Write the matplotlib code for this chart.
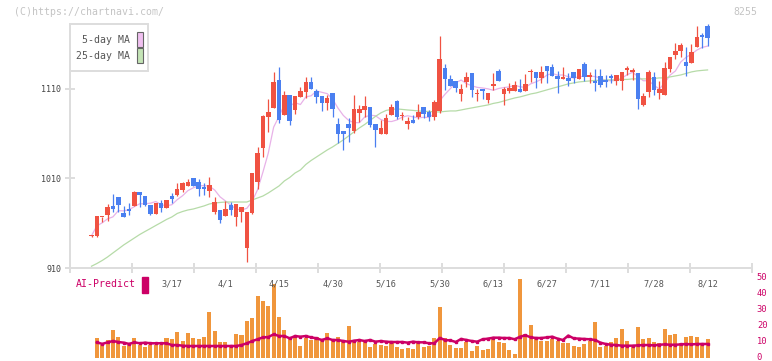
import numpy as np
import pandas as pd
import matplotlib
matplotlib.use('Agg')
import matplotlib.pyplot as plt
from matplotlib.patches import Rectangle
from matplotlib.transforms import blended_transform_factory, ScaledTranslation

# ---- daily candles (price) ----
opens = [946, 945.8, 967, 969.2, 979.3, 989.3, 971.8, 975.9, 979.3, 994.9,
         990.4, 980.4, 970.3, 983, 977.4, 990.4, 991.9, 997.2, 1001.6, 1010.2,
         1006.1, 1000.5, 996.4, 972.6, 974.8, 968.4, 980.4, 966.4, 972.6, 932.3,
         971.5, 1006.4, 1044.4, 1079, 1089.1, 1120, 1081, 1103.3, 1086.5, 1101.4,
         1107, 1117.8, 1107.8, 1102.2, 1094.7, 1105.2, 1070.9, 1063.1, 1070.9, 1063.1,
         1083.5, 1086.5, 1090.2, 1070.9, 1059.7, 1059.7, 1081, 1096.6, 1079.5, 1070.6,
         1075.4, 1079, 1089.9, 1084.3, 1078.7, 1085.4, 1133.8, 1121.2, 1118.9, 1104.4,
         1117.8, 1127.9, 1104.2, 1110, 1097.7, 1113.3, 1130.1, 1104.4, 1108, 1108.1,
         1109.4, 1108.1, 1128.4, 1129, 1122.3, 1135.7, 1134.6, 1124.5, 1120.8, 1122,
         1129, 1121.5, 1137.9, 1123.8, 1118.9, 1124.5, 1120.1, 1124.5, 1119.3, 1119.3,
         1131.6, 1129.3, 1128.2, 1092.1, 1106.6, 1123.1, 1105.9, 1103.3, 1132.3, 1148,
         1152.5, 1140.2, 1139, 1156.4, 1170.3, 1180.4]
closes = [946, 968.1, 967.3, 978.2, 975.9, 980.4, 967.3, 973.7, 995.3, 991.9,
          980.7, 970.3, 983, 977.4, 986, 986.8, 998.3, 1005, 1006.1, 1001.6,
          998.6, 998.6, 1002.7, 983.7, 963.6, 975.9, 974.8, 981.5, 978.2, 972.9,
          1015.8, 1038.8, 1079.8, 1084.3, 1117.8, 1075.4, 1103.3, 1074.2, 1102.2, 1107.8,
          1117.8, 1109.7, 1101.1, 1094.7, 1100.3, 1087.7, 1059.7, 1059.7, 1066.8, 1087.7,
          1087.7, 1091, 1069.8, 1064.2, 1066.4, 1077.3, 1090.2, 1078.4, 1080, 1074.2,
          1071.4, 1084.3, 1081.7, 1079, 1095.1, 1143.5, 1121.2, 1113.3, 1111.5, 1110,
          1123.7, 1108.9, 1104.6, 1108.1, 1105.2, 1115.6, 1118.9, 1110, 1111.5, 1114.5,
          1107, 1115.6, 1130.1, 1122.3, 1129, 1130.1, 1124.9, 1120.8, 1123.1, 1119.3,
          1122.6, 1132.3, 1123.7, 1124.2, 1116.1, 1114.5, 1118.2, 1122.6, 1125.6, 1129.3,
          1133.8, 1131.6, 1098.8, 1102.2, 1129.2, 1108.9, 1110, 1133.5, 1145.4, 1152.5,
          1159.2, 1136, 1151.3, 1167.9, 1167.5, 1166.4]
highs = [947, 968.1, 967.5, 981.5, 993, 989.3, 979.3, 983, 996, 995,
         990.4, 980.4, 983, 986, 986, 993.5, 1004.6, 1006, 1009.1, 1010.2,
         1009.1, 1005.3, 1012, 989.7, 974.8, 984.9, 984.1, 981.5, 978.2, 972.9,
         1015.8, 1044.9, 1081, 1098.8, 1129, 1134.9, 1107.8, 1103.3, 1102.2, 1112.6,
         1123.7, 1123.7, 1109.7, 1102.2, 1103.3, 1105.2, 1077.3, 1063.1, 1077.3, 1103.3,
         1092.1, 1102.2, 1090.2, 1070.9, 1075.4, 1081.7, 1093.2, 1098.1, 1084, 1079,
         1081, 1093.2, 1089.9, 1086.5, 1097.7, 1169.2, 1137.9, 1125.6, 1118.9, 1115.2,
         1129, 1127.9, 1109.7, 1110, 1106, 1127.9, 1132, 1112.6, 1116.4, 1118.9,
         1121.2, 1126.8, 1132.3, 1129, 1135.4, 1135.7, 1137.6, 1130.1, 1134.6, 1127.5,
         1129, 1132.3, 1140.2, 1129.3, 1132.3, 1132.3, 1125.6, 1126.8, 1125.6, 1129.3,
         1136, 1133.1, 1128.2, 1106, 1131.2, 1129, 1118.9, 1140.5, 1145.4, 1161.1,
         1161.7, 1157.3, 1160.3, 1180.4, 1172.2, 1182.6]
lows = [945, 945, 961.7, 962.5, 972.9, 972.9, 967.3, 969.2, 979.3, 978.5,
        979.3, 969.2, 970.3, 972.9, 977.4, 982.3, 990.4, 995.3, 1001.6, 1001.6,
        990.8, 991.2, 988.8, 970.3, 960.6, 968.4, 969.2, 956.9, 961.7, 916.7,
        970.3, 997.9, 1034.4, 1062.3, 1089.1, 1072, 1081, 1069.8, 1082, 1100.7,
        1099.6, 1109.7, 1094, 1085.4, 1086.5, 1079, 1049.3, 1041.8, 1051.1, 1060.5,
        1073.5, 1078.7, 1067.9, 1045.5, 1059.7, 1059.7, 1081, 1076.5, 1074.8, 1065.3,
        1071.4, 1076.1, 1077.3, 1074.6, 1075.4, 1082.8, 1108.9, 1113.3, 1106.6, 1096.6,
        1112.6, 1101.4, 1096.6, 1098.6, 1094, 1108.9, 1118.9, 1091.6, 1105.2, 1108.1,
        1107, 1108.1, 1117.8, 1111.1, 1116.4, 1116.4, 1124.9, 1105.9, 1120.8, 1113.3,
        1116.4, 1121.5, 1119.3, 1116.7, 1108.1, 1111.9, 1112.6, 1116.4, 1114.5, 1108.9,
        1125.6, 1120.1, 1087.7, 1091.3, 1101.4, 1103.3, 1098.8, 1103.3, 1129.3, 1143.5,
        1146.1, 1124.5, 1139, 1156.4, 1155.8, 1158]

# 25-day moving average as drawn (needs history before the window)
ma25 = [912, 915, 918.4, 922.3, 926.8, 931.2, 935.7, 939.6, 943.5, 947.4,
        950.8, 954.1, 957.5, 960.8, 964.2, 967, 970.9, 973.1, 974.8, 975.9,
        977.6, 979.3, 981.5, 982.6, 983.2, 983.7, 983.7, 983.7, 983.7, 983.7,
        986, 988.2, 990.4, 993.8, 997.7, 1001.6, 1007.2, 1011.1, 1016.1, 1019.5,
        1025.6, 1030.1, 1034, 1037.9, 1041.8, 1045.2, 1049.1, 1053, 1057.5, 1062,
        1066.4, 1070.3, 1074.8, 1079.3, 1083.2, 1086, 1087.1, 1087.7, 1087.1, 1086.5,
        1086, 1085.4, 1084.9, 1084.9, 1084.3, 1084.3, 1084.9, 1085.4, 1085.4, 1086.5,
        1087.7, 1088.8, 1089.9, 1091, 1092.1, 1093.8, 1094.9, 1096.6, 1098.3, 1099.9,
        1101.1, 1102.7, 1104.4, 1105.5, 1107.2, 1108.9, 1110.6, 1112.2, 1113.9, 1115.6,
        1116.7, 1117.8, 1118.4, 1118.9, 1119.5, 1119.5, 1120.1, 1120.1, 1120.1, 1120.6,
        1120.6, 1121.2, 1121.2, 1121.2, 1121.2, 1121.7, 1122.3, 1122.3, 1123.4, 1124.5,
        1125.6, 1127.3, 1129, 1130.1, 1130.7, 1131.2]

# ---- lower panel ----
volume = [None, 12.7, 8.1, 11.3, 17.5, 13.3, 7.5, 8.1, 12.7, 8.1,
          7.1, 8.1, 8.1, 8.1, 12.7, 11.9, 16.5, 10.8, 15.8, 12.7,
          11.9, 13.3, 29, 17.1, 10.2, 10.2, 8.1, 15, 14.4, 23.1,
          25.2, 39, 35.8, 32.7, 46.3, 25.8, 17.5, 11.9, 12.9, 7.5,
          12.7, 11.3, 13.3, 11.3, 15.8, 11.3, 13.3, 11.3, 20, 11.3,
          10.2, 10.2, 7.1, 8.75, 8.1, 7.7, 9.2, 7.1, 5.4, 6.5,
          5.8, 9.2, 7.1, 7.5, 12.7, 32, 12.7, 8.1, 6, 6.5,
          10.2, 4.6, 7.5, 5, 5.6, 11.9, 10.2, 9.2, 5, 2.5,
          49.4, 15, 20.6, 11.9, 10.6, 10.6, 11.9, 10.6, 9.6, 9.6,
          7.5, 6.9, 8.75, 10.6, 22.7, 6.7, 7.5, 10.2, 12.7, 18.1,
          10.8, 6.7, 19.6, 11.9, 12.7, 10.2, 9.6, 18.1, 14.4, 15,
          9.6, 13.3, 13.75, 12.9, 9.2, 11.9]
ai_predict = [None, 9.8, 8.8, 9.8, 10.6, 10.0, 9.6, 8.8, 9.8, 9.2,
              9.6, 9.2, 9.2, 9.2, 9.2, 8.1, 8.1, 7.7, 7.5, 7.5,
              7.5, 7.5, 7.5, 7.5, 7.5, 7.5, 7.5, 7.5, 8.1, 9.2,
              10.6, 11.7, 12.9, 13.1, 14.8, 13.75, 13.75, 12.3, 13.75, 13.3,
              13.75, 12.9, 12.3, 11.25, 12.3, 11.25, 11.25, 10.6, 10.2, 10.8,
              11.25, 10.6, 11.25, 10.2, 10.6, 10.2, 10.0, 10.0, 10.0, 9.6,
              10.2, 9.8, 9.8, 9.2, 9.2, 12.5, 11.25, 11.0, 10.0, 11.9,
              11.25, 10.6, 10.2, 11.7, 12.1, 12.7, 12.7, 12.5, 12.5, 11.7,
              13.3, 14.2, 12.9, 12.5, 12.5, 12.9, 13.3, 12.1, 11.25, 14.0,
              12.3, 12.1, 11.9, 11.7, 11.25, 9.6, 8.75, 8.3, 8.1, 7.7,
              7.7, 7.7, 7.9, 8.1, 8.1, 7.9, 8.3, 8.5, 8.3, 8.3,
              8.5, 8.75, 8.5, 8.75, 8.75, 8.75]

date_labels = ['3/17', '4/1', '4/15', '4/30', '5/16', '5/30',
               '6/13', '6/27', '7/11', '7/28', '8/12']
date_pos = [15, 25, 35, 45, 55, 65, 75, 85, 95, 105, 115]
price_ticks = [910, 1010, 1110]
vol_ticks = [0, 10, 20, 30, 40, 50]

RED = '#f05242'
BLUE = '#4a7ff0'
GRID = '#dddddd'
MAGENTA = '#cc0066'
MONO = 'DejaVu Sans Mono'

W, H = 772, 361
fig = plt.figure(figsize=(W / 100, H / 100), dpi=100)


def fx(x):
    return x / W


def fy(y):
    return 1 - y / H


step = 5.357       # pixels per trading day
first_x = 91.5
xlim = ((70 - first_x) / step, (752 - first_x) / step)

vax = fig.add_axes([fx(70), fy(358), fx(752) - fx(70), fy(270) - fy(358)])
ax = fig.add_axes([fx(70), fy(268), fx(752) - fx(70), fy(24) - fy(268)])

n = len(closes)
idx = np.arange(n)
o = np.array(opens)
c = np.array(closes)
hi = np.array(highs)
lo = np.array(lows)
cols = np.where(c >= o, RED, BLUE)

ma5 = pd.Series(closes).rolling(5, min_periods=1).mean()
ax.plot(idx, ma5, color='#e8b2e8', lw=0.9, zorder=1)
ax.plot(idx, ma25, color='#b6dba8', lw=0.9, zorder=1)

ax.vlines(idx, lo, hi, colors=cols, lw=0.9, zorder=2, clip_on=False)
body_lo = np.minimum(o, c)
body_h = np.maximum(np.abs(c - o), 1.2)
ax.bar(idx, body_h, bottom=body_lo, width=0.85, color=cols, linewidth=0,
       zorder=3, clip_on=False)

ax.set_xlim(xlim)
ax.set_ylim(910, 910 + 244.3 / 0.8965)
ax.patch.set_visible(False)
for s in ['top', 'right']:
    ax.spines[s].set_visible(False)
for s in ['left', 'bottom']:
    ax.spines[s].set_color(GRID)
    ax.spines[s].set_linewidth(1.4)
ax.set_yticks(price_ticks)
ax.set_yticklabels([str(t) for t in price_ticks], family=MONO)
ax.set_xticks(np.linspace(xlim[0], xlim[1], 12))
ax.set_xticklabels([])
ax.tick_params(axis='both', direction='inout', length=6.5, width=1.4, color=GRID)
ax.tick_params(axis='y', labelsize=6, labelcolor='#444444', pad=3)

tr = blended_transform_factory(ax.transData, fig.transFigure)
for p, lab in zip(date_pos, date_labels):
    ax.text(p, fy(284), lab, transform=tr, ha='center', va='center',
            fontsize=6.2, color='#555555', family=MONO)

# lower panel
vol = np.array([np.nan if v is None else v for v in volume])
aip = np.array([np.nan if v is None else v for v in ai_predict])
vax.bar(idx, vol, width=0.75, color='#f0963c', linewidth=0)
vax.plot(idx, aip, color=MAGENTA, lw=1.8, marker='s', ms=2, zorder=3)
vax.set_xlim(xlim)
vax.set_ylim(0, 88 / 1.6)
vax.patch.set_visible(False)
for s in vax.spines.values():
    s.set_visible(False)
vax.set_xticks([])
vax.yaxis.tick_right()
vax.set_yticks(vol_ticks)
vax.set_yticklabels([str(t) for t in vol_ticks], family=MONO)
vax.tick_params(axis='y', length=0, pad=3.5, labelsize=6.3, labelcolor=MAGENTA)
for t in vax.get_yticklabels():
    t.set_transform(t.get_transform() + ScaledTranslation(0, 1.5 / 100, fig.dpi_scale_trans))

fig.text(fx(76), fy(284), 'AI-Predict', color=MAGENTA, fontsize=7.1,
         family=MONO, ha='left', va='center')
fig.patches.append(Rectangle((fx(142), fy(293)), fx(6), 16 / H,
                             transform=fig.transFigure, color=MAGENTA))

# legend box
fig.patches.append(Rectangle((fx(70), fy(71)), fx(78), 47 / H, transform=fig.transFigure,
                             facecolor='white', edgecolor=GRID, lw=1.4, zorder=5))
for ytxt, lab, sw in [(40, '5-day MA', '#f0c0f0'), (56, '25-day MA', '#c4e4b6')]:
    fig.text(fx(130), fy(ytxt), lab, color='#555555', fontsize=7.1, family=MONO,
             ha='right', va='center', zorder=6)
    fig.patches.append(Rectangle((fx(136.5), fy(ytxt + 7)), fx(6), 15 / H,
                                 transform=fig.transFigure, facecolor=sw,
                                 edgecolor='#666666', lw=0.8, zorder=6))

fig.text(fx(14), fy(12), '(C)https://chartnavi.com/', color='#c4c4c4', fontsize=7.1,
         family=MONO, ha='left', va='center')
fig.text(fx(757), fy(12), '8255', color='#c4c4c4', fontsize=7.1,
         family=MONO, ha='right', va='center')

fig.savefig('out.png', dpi=100)
